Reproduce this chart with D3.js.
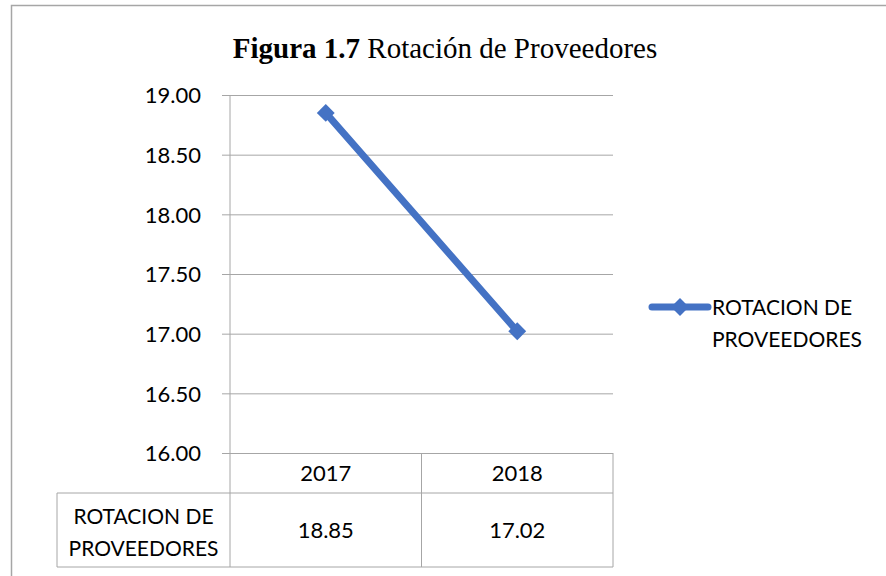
<!DOCTYPE html>
<html>
<head>
<meta charset="utf-8">
<script src="https://cdn.jsdelivr.net/npm/d3@7"></script>
<style>
  body { margin: 0; background: #fff; }
  text { font-family: Lato, "Open Sans", sans-serif; fill: #000; }
</style>
</head>
<body>
<div id="chart"></div>
<script>
// data
var years = ["2017", "2018"];
var rotacion = [18.85, 17.02];
var seriesName = "ROTACION DE PROVEEDORES";
var yTicks = [16, 16.5, 17, 17.5, 18, 18.5, 19];

var svgWidth = 886, svgHeight = 576;
var plot = { left: 230, right: 613, top: 95, bottom: 453 };
var rowBottom1 = 493, rowBottom2 = 567, keyLeft = 57;
var blue = "#4472c4", grid = "#a6a6a6";

var svg = d3.select("#chart").append("svg")
  .attr("width", svgWidth)
  .attr("height", svgHeight);

// outer frame of the chart area (bottom and right fall outside the picture)
svg.append("path")
  .attr("d", "M11.5," + svgHeight + " V5.5 H" + svgWidth)
  .attr("fill", "none")
  .attr("stroke", "#a6a6a6")
  .attr("stroke-width", 1.5);

// title, first part bold
var title = svg.append("text")
  .attr("x", 445)
  .attr("y", 58)
  .attr("text-anchor", "middle")
  .style("font-family", "'Liberation Serif', 'Times New Roman', serif")
  .style("font-size", "29px");
title.append("tspan").style("font-weight", "bold").text("Figura 1.7");
title.append("tspan").text(" Rotación de Proveedores");

var x = d3.scaleBand().domain(years).range([plot.left, plot.right]);
var y = d3.scaleLinear().domain([16, 19]).range([plot.bottom, plot.top]);

// gridlines + labels via the axis
var yAxis = d3.axisLeft(y)
  .tickValues(yTicks)
  .tickFormat(d3.format(".2f"))
  .tickSize(-(plot.right - plot.left))
  .tickPadding(29);

var gy = svg.append("g")
  .attr("transform", "translate(" + plot.left + ",0)")
  .call(yAxis);
gy.select(".domain").remove();
gy.selectAll(".tick line")
  .attr("stroke", grid)
  .attr("x1", -8)
  .attr("stroke-width", 1);
gy.selectAll(".tick text")
  .style("font-size", "22px")
  .attr("dy", "0.35em");

// vertical axis line
svg.append("line")
  .attr("x1", plot.left).attr("x2", plot.left)
  .attr("y1", plot.top).attr("y2", rowBottom2)
  .attr("stroke", grid);

// data table
var tbl = svg.append("g");
tbl.append("line")
  .attr("x1", keyLeft).attr("x2", plot.right)
  .attr("y1", rowBottom1).attr("y2", rowBottom1)
  .attr("stroke", grid);
tbl.append("line")
  .attr("x1", keyLeft).attr("x2", plot.right)
  .attr("y1", rowBottom2).attr("y2", rowBottom2)
  .attr("stroke", grid);
tbl.append("line")
  .attr("x1", keyLeft).attr("x2", keyLeft)
  .attr("y1", rowBottom1).attr("y2", rowBottom2)
  .attr("stroke", grid);
years.forEach(function(yr) {
  tbl.append("line")
    .attr("x1", x(yr) + x.bandwidth()).attr("x2", x(yr) + x.bandwidth())
    .attr("y1", plot.bottom).attr("y2", rowBottom2)
    .attr("stroke", grid);
});

tbl.selectAll("text.year").data(years).enter().append("text")
  .attr("class", "year")
  .attr("x", d => x(d) + x.bandwidth() / 2)
  .attr("y", (plot.bottom + rowBottom1) / 2)
  .attr("dy", "0.35em")
  .attr("text-anchor", "middle")
  .style("font-size", "22px")
  .text(d => d);

tbl.selectAll("text.val").data(rotacion).enter().append("text")
  .attr("class", "val")
  .attr("x", (d, i) => x(years[i]) + x.bandwidth() / 2)
  .attr("y", (rowBottom1 + rowBottom2) / 2)
  .attr("dy", "0.35em")
  .attr("text-anchor", "middle")
  .style("font-size", "22px")
  .text(d => d3.format(".2f")(d));

var keyText = tbl.append("text")
  .attr("x", (keyLeft + plot.left) / 2)
  .attr("y", (rowBottom1 + rowBottom2) / 2 + 2)
  .attr("text-anchor", "middle")
  .style("font-size", "21px");
keyText.append("tspan").attr("x", (keyLeft + plot.left) / 2).attr("dy", "-0.4em").text("ROTACION DE");
keyText.append("tspan").attr("x", (keyLeft + plot.left) / 2).attr("dy", "1.52em").text("PROVEEDORES");

// series line
var line = d3.line()
  .x((d, i) => x(years[i]) + x.bandwidth() / 2)
  .y(d => y(d));

svg.append("path")
  .datum(rotacion)
  .attr("d", line)
  .attr("fill", "none")
  .attr("stroke", blue)
  .attr("stroke-width", 7)
  .attr("stroke-linecap", "round");

var diamond = d3.symbol().type(d3.symbolSquare).size(160);
svg.selectAll("path.marker").data(rotacion).enter().append("path")
  .attr("class", "marker")
  .attr("d", diamond)
  .attr("fill", blue)
  .attr("transform", (d, i) => "translate(" + (x(years[i]) + x.bandwidth() / 2) + "," + y(d) + ") rotate(45)");

// legend
var lg = svg.append("g").attr("transform", "translate(652,307)");
lg.append("line")
  .attr("x1", 0).attr("x2", 56)
  .attr("stroke", blue)
  .attr("stroke-width", 7)
  .attr("stroke-linecap", "round");
lg.append("path")
  .attr("d", diamond)
  .attr("fill", blue)
  .attr("transform", "translate(28,0) rotate(45)");
var lt = lg.append("text")
  .attr("x", 60)
  .attr("y", 8)
  .style("font-size", "21px");
lt.append("tspan").attr("x", 60).text("ROTACION DE");
lt.append("tspan").attr("x", 60).attr("dy", 32).text("PROVEEDORES");
</script>
</body>
</html>
